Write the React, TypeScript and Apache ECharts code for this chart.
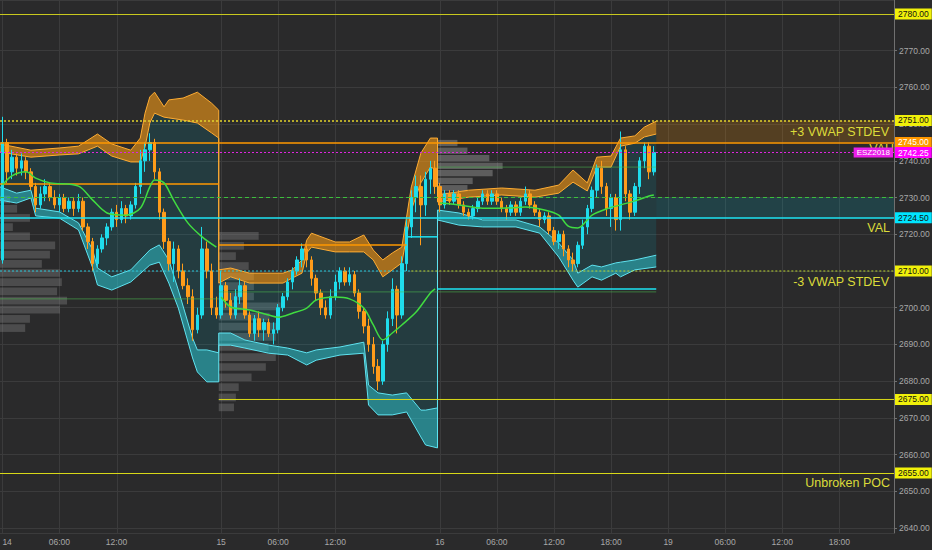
import React, { useEffect, useRef } from 'react';
import * as echarts from 'echarts';

// ---------- time axis (30-minute bars) ----------
const days = ['14', '15', '16', '19'];
const barsPerDay = [46, 46, 48, 48];
const dayTimeLabels = [
  ['06:00', '12:00'],
  ['06:00', '12:00'],
  ['06:00', '12:00', '18:00'],
  ['06:00', '12:00', '18:00'],
];

// ---------- candles [open, close, low, high] ----------
const candles: number[][] = [
  [2713, 2745, 2712, 2752], [2745, 2737, 2734, 2746], [2737, 2741, 2735, 2743], [2741, 2738, 2736, 2742],
  [2738, 2740, 2736, 2742], [2740, 2737, 2735, 2741], [2737, 2733, 2732, 2738], [2733, 2728, 2726, 2734],
  [2728, 2731, 2727, 2733], [2731, 2733, 2729, 2735], [2733, 2730, 2729, 2734], [2730, 2728, 2727, 2732],
  [2728, 2730, 2726, 2731], [2730, 2727, 2726, 2731], [2727, 2729, 2726, 2730], [2729, 2727, 2725, 2730],
  [2727, 2729, 2726, 2731], [2729, 2722, 2721, 2730], [2722, 2718, 2716, 2723], [2718, 2712, 2710, 2719],
  [2712, 2716, 2711, 2717], [2716, 2719, 2715, 2720], [2719, 2722, 2717, 2723], [2722, 2726, 2721, 2727],
  [2726, 2724, 2722, 2728], [2724, 2727, 2723, 2729], [2727, 2725, 2723, 2728], [2725, 2728, 2724, 2729],
  [2728, 2733, 2727, 2734], [2733, 2740, 2731, 2743], [2740, 2743, 2737, 2745], [2743, 2745, 2740, 2747.5],
  [2745, 2737, 2735, 2746], [2737, 2726, 2724, 2738], [2726, 2718, 2716, 2727], [2718, 2712, 2710, 2719],
  [2712, 2716, 2707, 2718], [2716, 2710, 2708, 2717], [2710, 2706, 2705, 2712], [2706, 2703, 2701, 2708],
  [2703, 2694, 2691, 2705], [2694, 2698, 2693, 2700], [2698, 2716, 2697, 2722], [2716, 2710, 2708, 2718],
  [2710, 2700, 2698, 2712], [2700, 2698, 2697, 2703],
  // session 15
  [2698, 2706, 2697, 2710], [2706, 2702, 2700, 2707], [2702, 2698, 2697, 2704], [2698, 2703, 2697, 2705],
  [2703, 2706, 2701, 2708], [2706, 2698, 2697, 2707], [2698, 2693, 2692, 2699], [2693, 2697, 2691, 2698],
  [2697, 2694, 2692, 2699], [2694, 2696, 2691, 2697], [2696, 2693, 2692, 2697], [2693, 2694, 2690, 2696],
  [2694, 2700, 2693, 2701], [2700, 2703, 2699, 2704], [2703, 2707, 2702, 2708], [2707, 2710, 2705, 2711],
  [2710, 2713, 2709, 2714], [2713, 2716, 2711, 2717.5], [2716, 2713, 2711, 2717], [2713, 2708, 2706, 2714],
  [2708, 2704, 2702, 2709], [2704, 2700, 2698, 2705], [2700, 2698, 2697, 2702], [2698, 2703, 2697, 2705],
  [2703, 2707, 2702, 2709], [2707, 2710, 2705, 2711], [2710, 2707, 2706, 2711], [2707, 2709, 2706, 2711],
  [2709, 2704, 2703, 2710], [2704, 2699, 2697, 2705], [2699, 2695, 2693, 2700], [2695, 2690, 2688, 2697],
  [2690, 2684, 2682, 2692], [2684, 2680, 2677.5, 2686], [2680, 2690, 2679, 2691], [2690, 2697, 2688, 2699],
  [2697, 2705, 2695, 2708], [2705, 2698, 2693, 2706], [2698, 2712, 2697, 2714], [2712, 2722, 2710, 2724],
  [2722, 2730, 2719, 2732], [2730, 2733, 2726, 2736], [2733, 2728, 2717, 2736], [2728, 2735, 2725, 2737],
  [2735, 2738, 2731, 2740], [2738, 2733, 2731, 2740],
  // session 16
  [2733, 2728, 2726, 2734], [2728, 2731, 2727, 2732], [2731, 2729, 2728, 2732], [2729, 2731, 2728, 2732],
  [2731, 2728, 2727, 2732], [2728, 2726, 2725, 2729], [2726, 2725, 2724, 2727], [2725, 2727, 2724, 2728],
  [2727, 2729, 2726, 2730], [2729, 2731, 2728, 2732], [2731, 2729, 2728, 2732], [2729, 2731, 2728, 2732],
  [2731, 2729, 2728, 2732], [2729, 2727, 2726, 2730], [2727, 2726, 2724, 2728], [2726, 2728, 2725, 2729],
  [2728, 2726, 2725, 2729], [2726, 2729, 2725, 2730], [2729, 2731, 2728, 2733], [2731, 2728, 2727, 2732],
  [2728, 2726, 2725, 2729], [2726, 2724, 2722, 2727], [2724, 2725, 2723, 2726], [2725, 2721, 2720, 2726],
  [2721, 2718, 2717, 2722], [2718, 2720, 2716, 2721], [2720, 2716, 2714, 2721], [2716, 2713, 2711, 2717],
  [2713, 2712, 2710, 2715], [2712, 2717, 2711, 2718], [2717, 2722, 2716, 2724], [2722, 2727, 2720, 2728],
  [2727, 2732, 2726, 2733], [2732, 2738, 2730, 2739], [2738, 2733, 2731, 2740], [2733, 2727, 2725, 2734],
  [2727, 2730, 2722, 2731], [2730, 2724, 2721, 2731], [2724, 2743, 2721, 2748], [2743, 2731, 2729, 2744],
  [2731, 2726, 2724, 2732], [2726, 2733, 2725, 2734], [2733, 2740, 2731, 2741], [2740, 2744, 2738, 2745],
  [2744, 2737, 2735, 2745], [2737, 2742.25, 2736, 2744],
];

// ---------- VWAP +3 stdev band [barIndex, top, bottom] ----------
const upper1 = [
  [-0.5, 2744.6, 2742.4], [6, 2742.9, 2741.0], [12, 2743.5, 2741.6], [16, 2744.0, 2741.9],
  [20, 2747.3, 2744.0], [23, 2744.6, 2741.3], [27, 2742.9, 2739.7], [29, 2746.2, 2739.7],
  [30, 2753.0, 2743.8], [31, 2757.4, 2750.3], [32, 2758.7, 2753.0], [34, 2754.7, 2751.9],
  [35, 2756.6, 2751.7], [38, 2757.1, 2751.1], [41, 2758.7, 2750.3], [44, 2755.7, 2747.6],
  [45.5, 2753.8, 2746.2],
];
const upper2 = [
  [45.5, 2710.3, 2706.7], [48, 2710.8, 2708.4], [52, 2709.4, 2706.7], [59, 2709.4, 2706.7],
  [61, 2710.3, 2708.1], [63, 2713.0, 2709.4], [64, 2718.4, 2714.9], [65, 2720.3, 2716.5],
  [70, 2717.9, 2715.2], [73, 2717.9, 2715.2], [76, 2719.8, 2715.2], [78, 2715.7, 2713.0],
  [80, 2713.0, 2708.4], [82, 2714.9, 2710.3], [84, 2716.5, 2712.2], [86, 2732.9, 2726.6],
  [88, 2742.1, 2734.0], [90, 2746.2, 2738.3], [91.5, 2746.2, 2737.5],
];
const upper3 = [
  [91.5, 2730.7, 2728.8], [98, 2732.0, 2730.1], [105, 2732.6, 2730.7], [112, 2732.0, 2730.1],
  [117, 2733.4, 2731.2], [120, 2737.5, 2734.2], [123, 2734.0, 2731.8], [125, 2741.0, 2738.3],
  [128, 2741.3, 2738.3], [130, 2746.2, 2744.0], [133, 2746.8, 2744.8], [135, 2749.2, 2746.5],
  [137.5, 2750.8, 2747.3],
];

// ---------- VWAP -3 stdev band [barIndex, top, bottom] ----------
const lower1 = [
  [-0.5, 2732.9, 2729.3], [3, 2731.2, 2728.5], [6, 2732.0, 2729.9], [7, 2727.1, 2725.0],
  [12, 2726.1, 2724.4], [16, 2723.1, 2721.2], [19, 2715.7, 2710.8], [20, 2710.8, 2706.2],
  [23, 2708.4, 2704.8], [27, 2710.3, 2707.0], [31, 2715.7, 2711.6], [33, 2717.1, 2712.4],
  [35, 2713.0, 2706.7], [37, 2704.8, 2699.9], [40, 2691.7, 2686.3], [41, 2688.5, 2682.5],
  [43, 2688.5, 2679.8], [45.5, 2687.7, 2679.8],
];
const lower2 = [
  [45.5, 2693.1, 2689.8], [48, 2693.1, 2689.8], [51, 2691.2, 2689.0], [56, 2689.8, 2687.6],
  [60, 2689.0, 2687.1], [64, 2687.7, 2684.4], [66, 2688.5, 2685.7], [71, 2689.3, 2687.1],
  [76, 2690.6, 2687.6], [77, 2678.9, 2673.5], [79, 2676.8, 2670.8], [82, 2676.2, 2670.8],
  [85, 2676.8, 2671.6], [88, 2672.1, 2664.8], [89, 2672.1, 2662.6], [91.5, 2672.7, 2661.8],
];
const lower3 = [
  [91.5, 2726.6, 2723.9], [96, 2725.8, 2722.5], [101, 2723.9, 2722.0], [108, 2723.9, 2722.0],
  [113, 2722.0, 2720.3], [117, 2717.6, 2713.8], [120, 2713.0, 2707.5], [121, 2709.4, 2705.6],
  [124, 2711.6, 2708.4], [126, 2711.1, 2707.5], [129, 2712.2, 2709.4], [130, 2712.4, 2708.4],
  [133, 2713.0, 2710.3], [137.5, 2714.3, 2711.1],
];

// ---------- session VWAP [barIndex, price] ----------
const vwap1 = [
  [0, 2733.4], [2, 2735.9], [5, 2737.0], [7, 2735.3], [10, 2734.0], [16, 2733.1], [19, 2729.3],
  [22, 2725.8], [26, 2725.2], [29, 2727.1], [31, 2732.9], [32, 2734.8], [34, 2734.0], [36, 2729.3],
  [39, 2723.1], [42, 2719.3], [45, 2716.5],
];
const vwap2 = [
  [46, 2702.9], [48, 2700.2], [52, 2699.4], [56, 2698.0], [58, 2697.4], [61, 2698.5], [64, 2699.9],
  [66, 2702.1], [70, 2702.9], [73, 2702.4], [76, 2699.9], [78, 2695.3], [80, 2691.2], [82, 2693.1],
  [84, 2695.3], [87, 2698.8], [90, 2704.0], [91, 2705.1],
];
const vwap3 = [
  [92, 2728.5], [96, 2728.0], [101, 2727.1], [105, 2727.1], [110, 2727.4], [114, 2726.6],
  [117, 2725.2], [119, 2722.2], [121, 2721.7], [124, 2725.2], [127, 2726.9], [130, 2728.0],
  [133, 2729.1], [136, 2730.4], [137, 2730.7],
];

// ---------- session volume profiles [top, bottom, length in bars] ----------
const profile1 = [
  [2730.5, 2728.4, 2.1], [2728, 2725.9, 3.6], [2725.5, 2723.4, 6.3], [2723, 2720.9, 2.7],
  [2720.5, 2718.4, 6.3], [2718, 2715.9, 11.6], [2715.5, 2713.4, 10.5], [2713, 2710.9, 8.8],
  [2710.5, 2708.4, 12.6], [2708, 2705.9, 13], [2705.5, 2703.4, 12], [2703, 2700.9, 14.1],
  [2700.5, 2698.4, 12.6], [2698, 2695.9, 6.3], [2695.5, 2693.4, 5.3],
];
const profile2 = [
  [2720.6, 2718.5, 8.4], [2717.9, 2715.8, 5.3], [2715.1, 2713.0, 3.6], [2712.4, 2710.3, 6.3],
  [2709.6, 2707.5, 7.4], [2706.9, 2704.8, 7.4], [2704.1, 2702.0, 7.4], [2701.4, 2699.3, 13],
  [2698.6, 2696.5, 10.7], [2695.9, 2693.8, 12.4], [2693.1, 2691.0, 12], [2690.4, 2688.3, 10.5],
  [2687.6, 2685.5, 12], [2684.9, 2682.8, 9.9], [2682.1, 2680.0, 6.9], [2679.4, 2677.3, 4.2],
  [2676.6, 2674.5, 3.6], [2673.9, 2671.8, 3.2],
];
const profile3 = [
  [2745.7, 2744.0, 4.2], [2743.6, 2741.9, 6.3], [2741.6, 2739.9, 10.9], [2739.5, 2737.8, 13.7],
  [2737.5, 2735.8, 11.6], [2735.4, 2733.7, 7.4], [2733.4, 2731.7, 6.3], [2731.4, 2729.7, 4.2],
];
const profileStarts = [-0.5, 45.5, 91.5];

// ---------- session reference segments [fromBar, toBar, price] ----------
const prevCloseOrange = [[-0.5, 45.5, 2733.7], [45.5, 85, 2717.1]];
const prevCloseCyan = [[85, 91.5, 2719.3], [91.5, 137.5, 2705.1]];
const pocFaint = [[-0.5, 45.5, 2702.4], [45.5, 137.5, 2704.3], [91.5, 137.5, 2738.3]];
const level2710Cyan = [[-0.5, 86, 2710]];
const level2710Yellow = [[86, 187.5, 2710]];
const level2675 = [[45.5, 187.5, 2675]];
// zones to the right of the last bar [fromBar, toBar, top, bottom]
const zoneBoxes = [[137.5, 187.5, 2751, 2745], [137.5, 187.5, 2730, 2724.5]];

// ---------- price levels ----------
const levelValues = [2780, 2751, 2745, 2742.25, 2730, 2724.5, 2710, 2675, 2655];
const levelNotes = ['', '+3 VWAP STDEV', 'VAH', '', '', 'VAL', '-3 VWAP STDEV', '', 'Unbroken POC'];
const lastPrice = 2742.25;
const symbolName = 'ESZ2018';

// ---------- styles (kept apart from the data) ----------
const YEL_TAG = '#f0f00a';
const YEL_LINE = '#d8d818';
const NONE = 'rgba(0,0,0,0)';
const levelLook: any[] = [
  { line: '#c8c81e', w: 1, dash: 'solid', full: true, bg: YEL_TAG, fg: '#111' },
  { line: '#e3d42c', w: 1.5, dash: [2, 2], full: true, bg: YEL_TAG, fg: '#111' },
  { line: '#ff9800', w: 1.5, dash: 'solid', full: true, bg: '#ff9800', fg: '#fff' },
  { line: '#e024e0', w: 1.2, dash: [2, 2], full: true, bg: '#ff00ff', fg: '#fff' },
  { line: '#3cbf3c', w: 1.2, dash: [4, 3], full: true, bg: '' },
  { line: '#1de4f5', w: 1.5, dash: 'solid', full: true, bg: '#00e5ff', fg: '#111' },
  { full: false, bg: YEL_TAG, fg: '#111' },
  { full: false, bg: YEL_TAG, fg: '#111' },
  { line: YEL_LINE, w: 1, dash: 'solid', full: true, bg: YEL_TAG, fg: '#111' },
];
const noteDistance = [5, 5, 0, 5, 5, 4, 5, 5, 4];
const segmentLook: any[] = [
  { rows: prevCloseOrange, stroke: '#ff9800', width: 1.5 },
  { rows: prevCloseCyan, stroke: '#1de4f5', width: 1.5 },
  { rows: pocFaint, stroke: 'rgba(76,190,80,0.55)', width: 1 },
  { rows: level2710Cyan, stroke: '#26c6da', width: 1.2, dash: [2, 2] },
  { rows: level2710Yellow, stroke: '#b9d62f', width: 1.2, dash: [2, 2] },
  { rows: level2675, stroke: YEL_LINE, width: 1 },
];

const FONT = 'Liberation Sans, Arial, sans-serif';
const BG = '#2a2a2b';
const GRIDC = '#3b3b3c';

function buildOption() {
  const categories: string[] = [];
  const tickLabels: Record<number, string> = {};
  let n = 0;
  days.forEach((d, di) => {
    for (let k = 0; k < barsPerDay[di]; k++) {
      const hh = String(Math.floor(k / 2)).padStart(2, '0');
      const t = `${hh}:${k % 2 ? '30' : '00'}`;
      categories.push(`${d} ${t}`);
      if (k === 0) tickLabels[n] = d;
      else if (dayTimeLabels[di].includes(t)) tickLabels[n] = t;
      n++;
    }
  });
  const tickIdx = Object.keys(tickLabels).map(Number);

  const toPt = (api: any, i: number, p: number) => {
    const base = api.coord([0, p]);
    const bw = api.size([1, 0])[0];
    return [base[0] + i * bw, base[1]];
  };

  const uppers = [upper1, upper2, upper3];
  const lowers = [lower1, lower2, lower3];

  // markLine data
  const hidden = { color: NONE, width: 0 };
  const mlData: any[] = [];
  levelValues.forEach((v, i) => {
    const L = levelLook[i];
    mlData.push({
      yAxis: v,
      lineStyle: L.full ? { color: L.line, width: L.w, type: L.dash } : hidden,
      label: L.bg
        ? {
            show: true, position: 'end', distance: 1, formatter: v.toFixed(2), color: L.fg,
            backgroundColor: L.bg, padding: [1, 3, 1, 3], fontSize: 8.5, lineHeight: 9, fontFamily: FONT,
          }
        : { show: false },
    });
  });
  levelValues.forEach((v, i) => {
    if (!levelNotes[i]) return;
    mlData.push({
      yAxis: v,
      lineStyle: hidden,
      label: {
        show: true, position: 'insideEndBottom', distance: noteDistance[i], formatter: levelNotes[i],
        color: '#dcdc3a', fontSize: 12.5, fontFamily: FONT,
      },
    });
  });
  mlData.push({
    yAxis: lastPrice,
    lineStyle: hidden,
    label: {
      show: true, position: 'insideEnd', distance: 1, formatter: symbolName, color: '#fff',
      backgroundColor: '#e91ee9', padding: [1, 3, 1, 3], fontSize: 8, lineHeight: 8, fontFamily: FONT,
    },
  });

  // profile rows
  const profileRows: any[] = [];
  [profile1, profile2, profile3].forEach((rows, s) => {
    rows.forEach((r) => profileRows.push([Math.max(0, Math.floor(profileStarts[s])), r[0], r[1], r[2], s, profileStarts[s]]));
  });

  // segment rows
  const segRows: any[] = [];
  segmentLook.forEach((g, gi) => {
    g.rows.forEach((r: number[]) => segRows.push([Math.max(0, Math.floor(r[0])), r[2], r[0], r[1], gi]));
  });

  const boxRows = zoneBoxes.map((b, i) => [Math.floor(b[0]), b[2], b[0], b[1], b[3], i]);
  const boxFill = ['rgba(255,152,0,0.2)', 'rgba(0,188,212,0.17)'];

  return {
    animation: false,
    backgroundColor: BG,
    textStyle: { fontFamily: FONT },
    grid: { left: 0, right: 38, top: 0, bottom: 17, containLabel: false, outerBoundsMode: 'none' },
    xAxis: {
      type: 'category',
      data: categories,
      boundaryGap: true,
      axisLine: { show: false },
      axisTick: { show: false },
      splitLine: { show: false },
      axisLabel: {
        interval: (i: number) => tickLabels[i] !== undefined,
        formatter: (_v: string, i: number) => tickLabels[i] ?? '',
        color: '#a8a8a8',
        fontSize: 8.5,
        margin: 4,
        fontFamily: FONT,
        alignMinLabel: 'left',
      },
    },
    yAxis: {
      type: 'value',
      position: 'right',
      min: 2638.63,
      max: 2783.81,
      splitNumber: 14,
      axisLine: { show: true, lineStyle: { color: '#707070' } },
      axisTick: { show: true, length: 3, lineStyle: { color: '#707070' } },
      axisLabel: {
        color: '#a8a8a8', fontSize: 8.5, margin: 5, fontFamily: FONT,
        showMinLabel: false, showMaxLabel: false,
        formatter: (v: number) => v.toFixed(2),
      },
      splitLine: { show: true, lineStyle: { color: GRIDC, width: 1 } },
    },
    series: [
      // vertical grid lines at the time labels
      {
        type: 'custom',
        z: 1,
        silent: true,
        data: tickIdx.map((i) => [i, 2700]),
        encode: { x: 0, y: 1 },
        renderItem: (params: any, api: any) => {
          const x = Math.round(api.coord([api.value(0), 2700])[0]) + 0.5;
          const cs = params.coordSys;
          return { type: 'line', shape: { x1: x, y1: cs.y, x2: x, y2: cs.y + cs.height }, style: { stroke: GRIDC, lineWidth: 1 } };
        },
      },
      // volume profiles
      {
        type: 'custom',
        z: 1,
        silent: true,
        data: profileRows,
        encode: { x: 0, y: 1 },
        renderItem: (_p: any, api: any) => {
          const a = toPt(api, api.value(5), api.value(1));
          const b = toPt(api, api.value(5), api.value(2));
          const bw = api.size([1, 0])[0];
          const s = api.value(4);
          return {
            type: 'rect',
            shape: { x: a[0], y: a[1], width: api.value(3) * bw, height: b[1] - a[1] },
            style: { fill: s === 2 ? 'rgba(175,175,175,0.38)' : 'rgba(140,140,140,0.35)' },
          };
        },
      },
      // zone boxes right of the last bar
      {
        type: 'custom',
        z: 2,
        silent: true,
        data: boxRows,
        encode: { x: 0, y: 1 },
        renderItem: (_p: any, api: any) => {
          const a = toPt(api, api.value(2), api.value(1));
          const b = toPt(api, api.value(3), api.value(4));
          return {
            type: 'rect',
            shape: { x: a[0], y: a[1], width: b[0] - a[0], height: b[1] - a[1] },
            style: { fill: boxFill[api.value(5)] },
          };
        },
      },
      // band fills per session
      {
        type: 'custom',
        z: 2,
        silent: true,
        data: [[0, 2700], [46, 2700], [92, 2700]],
        encode: { x: 0, y: 1 },
        renderItem: (params: any, api: any) => {
          const s = params.dataIndex;
          const up = uppers[s];
          const lo = lowers[s];
          const upTop = up.map((r) => toPt(api, r[0], r[1]));
          const upBot = up.map((r) => toPt(api, r[0], r[2]));
          const loTop = lo.map((r) => toPt(api, r[0], r[1]));
          const loBot = lo.map((r) => toPt(api, r[0], r[2]));
          return {
            type: 'group',
            children: [
              { type: 'polygon', shape: { points: [...upBot, ...loTop.slice().reverse()] }, style: { fill: 'rgba(0,188,212,0.13)' } },
              { type: 'polygon', shape: { points: [...upTop, ...upBot.slice().reverse()] }, style: { fill: 'rgba(255,160,20,0.58)' } },
              { type: 'polygon', shape: { points: [...loTop, ...loBot.slice().reverse()] }, style: { fill: 'rgba(40,210,225,0.52)' } },
            ],
          };
        },
      },
      // band edges (continuous across sessions)
      {
        type: 'custom',
        z: 2,
        silent: true,
        data: [[0, 2700]],
        encode: { x: 0, y: 1 },
        renderItem: (_p: any, api: any) => {
          const allUp = [...upper1, ...upper2, ...upper3];
          const allLo = [...lower1, ...lower2, ...lower3];
          const mk = (rows: number[][], k: number, stroke: string) => ({
            type: 'polyline',
            shape: { points: rows.map((r) => toPt(api, r[0], r[k])) },
            style: { stroke, lineWidth: 1, fill: 'none' },
          });
          return {
            type: 'group',
            children: [
              mk(allUp, 1, '#ffad33'),
              mk(allUp, 2, '#ffad33'),
              mk(allLo, 1, '#5fe3f0'),
              mk(allLo, 2, '#5fe3f0'),
            ],
          };
        },
      },
      // candles + levels
      {
        type: 'candlestick',
        z: 3,
        data: candles,
        barWidth: 3,
        itemStyle: {
          color: '#1fdcec',
          color0: '#ff9c1a',
          borderColor: '#1fdcec',
          borderColor0: '#ff9c1a',
          borderWidth: 1,
        },
        markLine: {
          silent: true,
          symbol: ['none', 'none'],
          animation: false,
          data: mlData,
        },
      },
      // session VWAP lines
      ...[vwap1, vwap2, vwap3].map((d) => ({
        type: 'line',
        z: 4,
        data: d,
        showSymbol: false,
        smooth: 0.3,
        silent: true,
        lineStyle: { color: '#40dc40', width: 1.5 },
      })),
      // reference segments
      {
        type: 'custom',
        z: 4,
        silent: true,
        data: segRows,
        encode: { x: 0, y: 1 },
        renderItem: (_p: any, api: any) => {
          const g = segmentLook[api.value(4)];
          const a = toPt(api, api.value(2), api.value(1));
          const b = toPt(api, api.value(3), api.value(1));
          return {
            type: 'line',
            shape: { x1: a[0], y1: a[1], x2: b[0], y2: b[1] },
            style: { stroke: g.stroke, lineWidth: g.width, lineDash: g.dash || null },
          };
        },
      },
    ],
  };
}

export default function App() {
  const ref = useRef<HTMLDivElement>(null);
  useEffect(() => {
    document.body.style.margin = '0';
    document.body.style.background = BG;
    const chart = echarts.init(ref.current as HTMLDivElement, undefined, { renderer: 'svg' });
    chart.setOption(buildOption() as any);
    return () => chart.dispose();
  }, []);
  return <div ref={ref} style={{ width: 932, height: 550 }} />;
}
